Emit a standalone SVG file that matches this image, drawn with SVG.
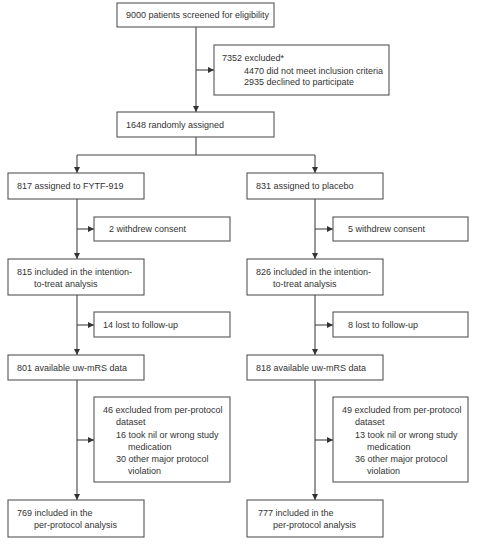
<svg xmlns="http://www.w3.org/2000/svg" width="486" height="554" viewBox="0 0 486 554">
<style>
rect.b{fill:#fff;stroke:#555;stroke-width:1.1}
text{font-family:"Liberation Sans",Arial,sans-serif;font-size:9px;fill:#333}
.c path{fill:none;stroke:#444;stroke-width:1.1}
</style>
<defs>
<marker id="a" markerUnits="userSpaceOnUse" markerWidth="7" markerHeight="7" refX="6" refY="3" orient="auto">
<path d="M0,0 L6,3 L0,6 z" fill="#333"/>
</marker>
</defs>
<rect width="486" height="554" fill="#fff"/>
<g class="c">
<path d="M196,27 V112" marker-end="url(#a)"/>
<path d="M196,70 H214" marker-end="url(#a)"/>
<path d="M196,137 V155 M77,155 H315"/>
<path d="M77,155 V173" marker-end="url(#a)"/>
<path d="M315,155 V173" marker-end="url(#a)"/>
<path d="M77,199 V259" marker-end="url(#a)"/>
<path d="M77,229 H94" marker-end="url(#a)"/>
<path d="M77,295 V355" marker-end="url(#a)"/>
<path d="M77,325 H94" marker-end="url(#a)"/>
<path d="M77,380 V500" marker-end="url(#a)"/>
<path d="M77,440 H94" marker-end="url(#a)"/>
<path d="M315,199 V259" marker-end="url(#a)"/>
<path d="M315,229 H333" marker-end="url(#a)"/>
<path d="M315,295 V355" marker-end="url(#a)"/>
<path d="M315,325 H333" marker-end="url(#a)"/>
<path d="M315,380 V500" marker-end="url(#a)"/>
<path d="M315,440 H333" marker-end="url(#a)"/>
</g>
<g id="screened"><rect class="b" x="117" y="3" width="157" height="24"/><text x="126" y="18">9000 patients screened for eligibility</text></g>
<g id="excluded"><rect class="b" x="214" y="45" width="175" height="50"/>
<text x="222" y="61">7352 excluded*</text>
<text x="244" y="74">4470 did not meet inclusion criteria</text>
<text x="244" y="85">2935 declined to participate</text></g>
<g id="randomised"><rect class="b" x="117" y="112" width="157" height="25"/><text x="126" y="128">1648 randomly assigned</text></g>
<g id="fytf"><rect class="b" x="8" y="173" width="136" height="26"/><text x="17" y="189">817 assigned to FYTF-919</text></g>
<g id="placebo"><rect class="b" x="247" y="173" width="136" height="26"/><text x="256" y="189">831 assigned to placebo</text></g>
<g id="withdrewL"><rect class="b" x="94" y="217" width="136" height="24"/><text x="109" y="232">2 withdrew consent</text></g>
<g id="withdrewR"><rect class="b" x="333" y="217" width="135" height="24"/><text x="348" y="232">5 withdrew consent</text></g>
<g id="ittL"><rect class="b" x="8" y="259" width="136" height="36"/><text x="17" y="275">815 included in the intention-</text><text x="34" y="287">to-treat analysis</text></g>
<g id="ittR"><rect class="b" x="247" y="259" width="136" height="36"/><text x="256" y="275">826 included in the intention-</text><text x="273" y="287">to-treat analysis</text></g>
<g id="lostL"><rect class="b" x="94" y="312" width="136" height="25"/><text x="103" y="328">14 lost to follow-up</text></g>
<g id="lostR"><rect class="b" x="333" y="312" width="135" height="25"/><text x="348" y="328">8 lost to follow-up</text></g>
<g id="mrsL"><rect class="b" x="8" y="355" width="136" height="25"/><text x="17" y="371">801 available uw-mRS data</text></g>
<g id="mrsR"><rect class="b" x="247" y="355" width="136" height="25"/><text x="256" y="371">818 available uw-mRS data</text></g>
<g id="ppexL"><rect class="b" x="94" y="397" width="136" height="85"/>
<text x="103" y="413">46 excluded from per-protocol</text>
<text x="116" y="425">dataset</text>
<text x="116" y="438">16 took nil or wrong study</text>
<text x="128" y="450">medication</text>
<text x="116" y="462">30 other major protocol</text>
<text x="128" y="474">violation</text></g>
<g id="ppexR"><rect class="b" x="333" y="397" width="135" height="85"/>
<text x="342" y="413">49 excluded from per-protocol</text>
<text x="355" y="425">dataset</text>
<text x="355" y="438">13 took nil or wrong study</text>
<text x="367" y="450">medication</text>
<text x="355" y="462">36 other major protocol</text>
<text x="367" y="474">violation</text></g>
<g id="ppL"><rect class="b" x="8" y="500" width="136" height="37"/><text x="17" y="516">769 included in the</text><text x="34" y="528">per-protocol analysis</text></g>
<g id="ppR"><rect class="b" x="247" y="500" width="136" height="37"/><text x="258" y="516">777 included in the</text><text x="273" y="528">per-protocol analysis</text></g>
</svg>
